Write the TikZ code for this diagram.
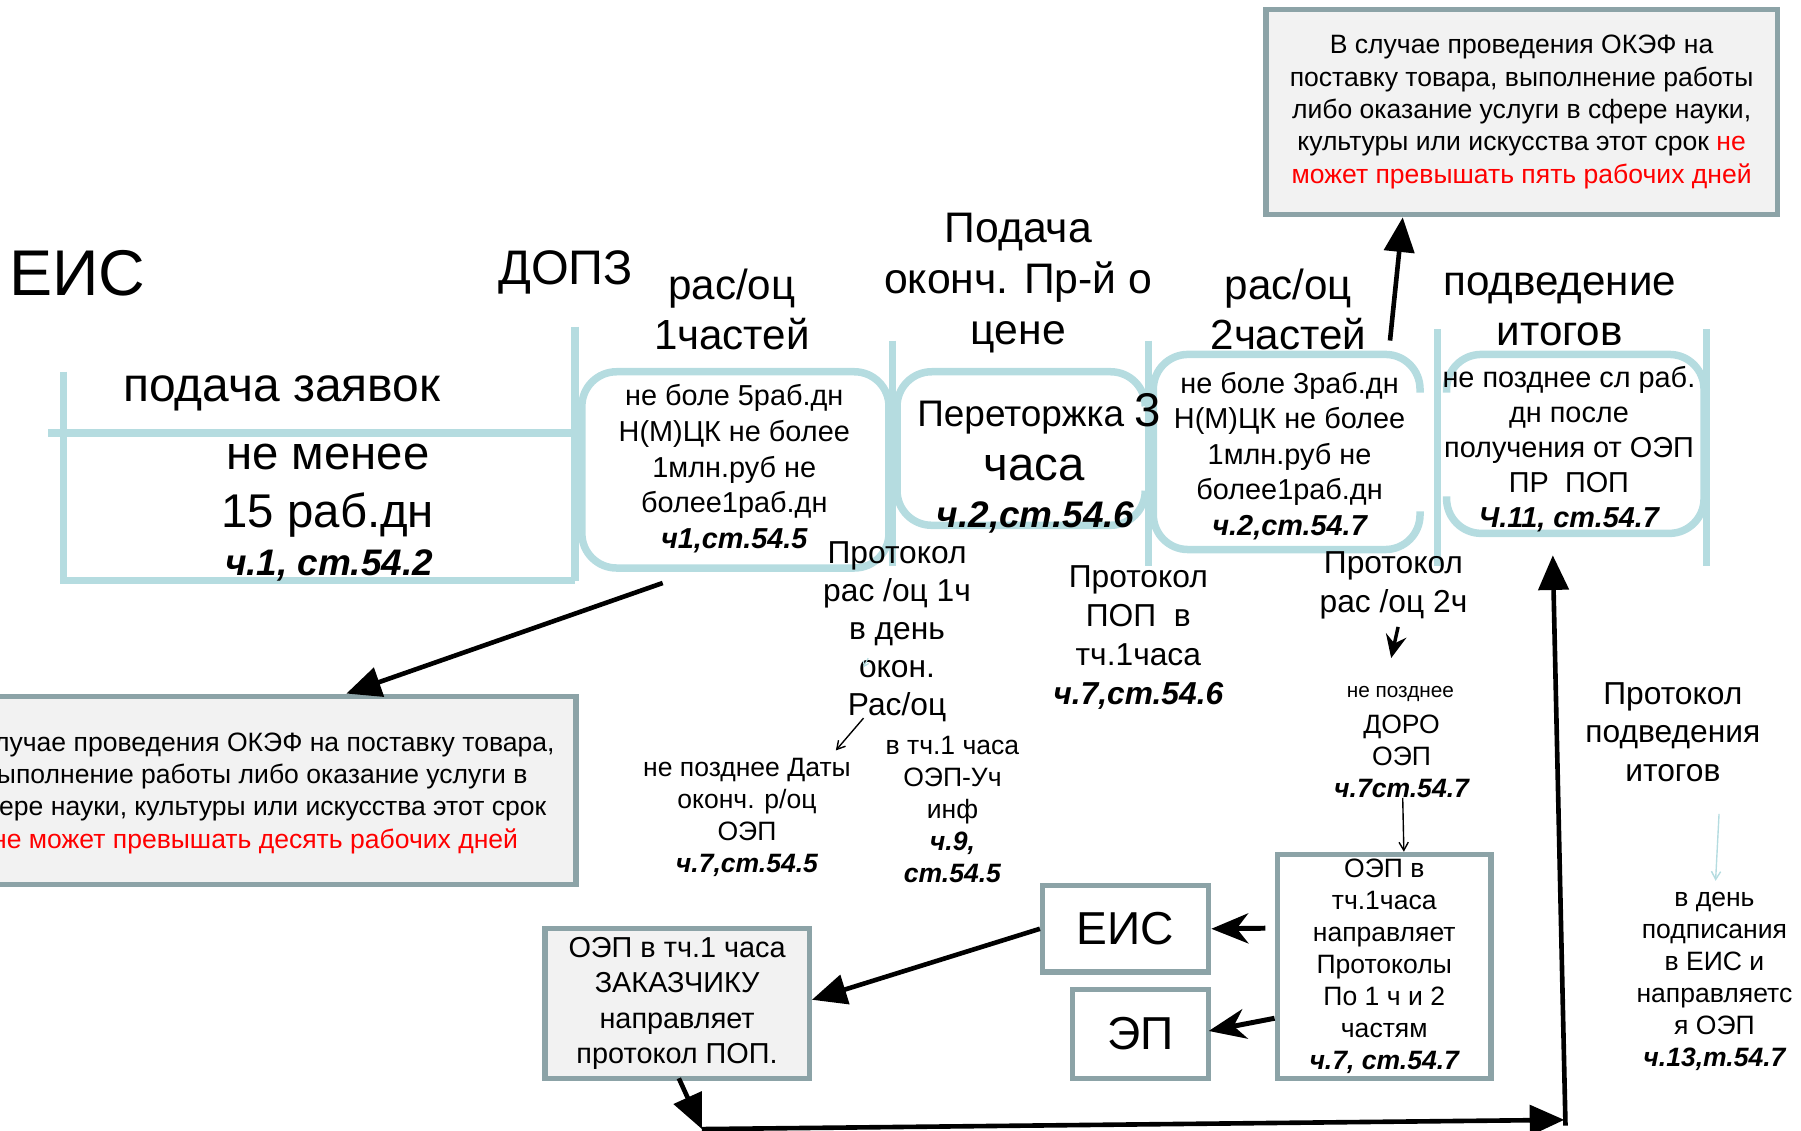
\documentclass[tikz,border=0pt]{standalone}
\usepackage{fontspec}
\setmainfont{Liberation Sans}
\usetikzlibrary{arrows.meta,calc}
\definecolor{lblue}{HTML}{B5DCE0}
\definecolor{gborder}{HTML}{8CA3A7}
\definecolor{gfill}{HTML}{F2F2F2}
\definecolor{redtxt}{HTML}{FF0000}
\newcommand{\fs}[2]{\fontsize{#1}{#2}\selectfont}
\newcommand{\bi}{\bfseries\itshape}
\begin{document}
\begin{tikzpicture}[x=1pt,y=-1pt,
  lbl/.style={draw=lblue,line width=6.5pt},
  tx/.style={inner sep=0pt,align=center},
  gbox/.style={draw=gborder,line width=4.5pt,fill=gfill,inner sep=0pt,align=center},
  wbox/.style={draw=gborder,line width=4.5pt,fill=white,inner sep=0pt,align=center},
  big/.style={line width=4pt,-{Triangle[length=30pt,width=26pt]}},
  mid/.style={line width=4.3pt,-{Stealth[length=32pt,width=26pt,inset=10pt]}},
  small/.style={line width=3pt,-{Stealth[length=20pt,width=18pt,inset=7pt]}},
  fine/.style={line width=1.2pt,-{Straight Barb[length=7pt,width=8pt]}}
]
\useasboundingbox (0,0) rectangle (1560,979);

% ---------- light blue structure ----------
\draw[lbl] (55,322) -- (55,503) -- (498,503);
\draw[lbl] (42,375) -- (498,375);
\draw[lbl] (498,283) -- (498,503);
\draw[lbl,rounded corners=30pt] (504,322) rectangle (770,492);
\draw[lbl] (773,295) -- (773,490);
\draw[lbl,rounded corners=30pt] (992,352) -- (992,322) -- (777,322) -- (777,455) -- (992,455) -- (992,425);
\draw[lbl] (995,295) -- (995,490);
\draw[lbl,rounded corners=30pt] (1230,340) -- (1230,307) -- (999,307) -- (999,476) -- (1230,476) -- (1230,443);
\draw[lbl] (1245,285) -- (1245,490);
\draw[lbl,rounded corners=30pt] (1253,340) -- (1253,307) -- (1476,307) -- (1476,462) -- (1253,462) -- (1253,430);
\draw[lbl] (1478,285) -- (1478,490);

% ---------- headings ----------
\node[tx,font=\fs{56}{60}] (eis) at (67,237) {ЕИС};
\node[tx,font=\fs{42}{48}] (dopz) at (490,236) {ДОПЗ};
\node[tx,font=\fs{36.5}{44}] (h1) at (634,268) {рас/оц\\1частей};
\node[tx,font=\fs{37}{44}] (h2) at (882,245) {Подача\\оконч. Пр-й о\\цене};
\node[tx,font=\fs{36.5}{44}] (h3) at (1116,268) {рас/оц\\2частей};
\node[tx,font=\fs{36.5}{44}] (h4) at (1351,268) {подведение\\итогов};

% ---------- section texts ----------
\node[tx,font=\fs{41.5}{48}] (pz) at (244,341) {подача заявок};
\node[tx,font=\fs{41}{50}] (nm) at (284,425) {не менее\\15 раб.дн};
\node[tx,font=\fs{32}{36}\bi] (nmref) at (285,490) {ч.1, ст.54.2};
\node[tx,font=\fs{25}{30.8}] (b2) at (636,406) {не боле 5раб.дн\\Н(М)ЦК не более\\1млн.руб не\\более1раб.дн\\{\bi ч1,ст.54.5}};
\node[tx,font=\fs{32}{38}] (pere) at (900,358) {Переторжка {\fs{41}{41}3}};
\node[tx,font=\fs{41}{48}] (chasa) at (896,405) {часа};
\node[tx,font=\fs{32}{38}\bi] (b3ref) at (897,448) {ч.2,ст.54.6};
\node[tx,font=\fs{25}{30.8}] (b4) at (1117,395) {не боле 3раб.дн\\Н(М)ЦК не более\\1млн.руб не\\более1раб.дн\\{\bi ч.2,ст.54.7}};
\node[tx,font=\fs{25}{30.5}] (b5) at (1359,389) {не позднее сл раб.\\дн после\\получения от ОЭП\\ПР\ \ ПОП\\{\bi Ч.11, ст.54.7}};

% ---------- OKEF boxes ----------
\node[gbox,minimum width=443pt,minimum height=178pt,font=\fs{23}{28}] (okef2) at (1318,97) {В случае проведения ОКЭФ на\\поставку товара, выполнение работы\\либо оказание услуги в сфере науки,\\культуры или искусства этот срок \textcolor{redtxt}{не}\\\textcolor{redtxt}{может превышать пять рабочих дней}};
\node[gbox,minimum width=559pt,minimum height=163pt] (okef1) at (219.5,684.5) {};
\node[tx,font=\fs{23}{28}] (okef1t) at (221,687) {В случае проведения ОКЭФ на поставку товара,\\выполнение работы либо оказание услуги в\\сфере науки, культуры или искусства этот срок\\\textcolor{redtxt}{не может превышать десять рабочих дней}};

% ---------- middle texts ----------
\node[tx,font=\fs{27.5}{33}] (prot1) at (777,547) {Протокол\\рас /оц 1ч\\в день\\окон.\\Рас/оц};
\node[tx,font=\fs{23}{27.7}] (npd) at (647,708) {не позднее Даты\\оконч. р/оц\\ОЭП\\{\bi ч.7,ст.54.5}};
\node[tx,font=\fs{23}{27.8}] (vtch) at (825,701) {в тч.1 часа\\ОЭП-Уч\\инф\\{\bi ч.9,}\\{\bi ст.54.5}};
\node[tx,font=\fs{27.5}{33.7}] (prot2) at (986,552) {Протокол\\ПОП\ \ в\\тч.1часа\\{\bi ч.7,ст.54.6}};
\node[tx,font=\fs{27.5}{33}] (prot3) at (1207,507) {Протокол\\рас /оц 2ч};
\node[tx,font=\fs{18}{22}] (nepoz) at (1213,601) {не позднее};
\node[tx,font=\fs{23}{28}] (doro) at (1214,655) {ДОРО\\ОЭП\\{\bi ч.7ст.54.7}};
\node[tx,font=\fs{27.5}{33.5}] (prot4) at (1449,634) {Протокол\\подведения\\итогов};
\node[tx,font=\fs{23}{27.8}] (vden) at (1485,850) {в день\\подписания\\в ЕИС и\\направляетс\\я ОЭП\\{\bi ч.13,т.54.7}};

% ---------- bottom boxes ----------
\node[wbox,minimum width=185pt,minimum height=194pt,font=\fs{23}{27.8}] (oep) at (1199,837) {ОЭП в\\тч.1часа\\направляет\\Протоколы\\По 1 ч и 2\\частям\\{\bi ч.7, ст.54.7}};
\node[wbox,minimum width=144pt,minimum height=75pt,font=\fs{40}{44}] (eisb) at (975,804.5) {ЕИС};
\node[wbox,minimum width=118pt,minimum height=77pt,font=\fs{40}{44}] (epb) at (988,895.5) {ЭП};
\node[gbox,minimum width=229pt,minimum height=130pt,font=\fs{25}{30.7}] (zak) at (586.5,869) {ОЭП в тч.1 часа\\ЗАКАЗЧИКУ\\направляет\\протокол ПОП.};

% ---------- coordinates for free ends ----------
\coordinate (a1s) at (1204,295);
\coordinate (a1x) at (1215,0);
\coordinate (a2s) at (574,505);
\coordinate (a2x) at (300,0);
\coordinate (t1s) at (748,622);
\coordinate (t1e) at (724,650);
\coordinate (lbs) at (752,570);
\coordinate (lbe) at (748,578);
\coordinate (p3s) at (1211,543);
\coordinate (p3e) at (1205,570);
\coordinate (d1s) at (1215,691);
\coordinate (d1x) at (1216,0);
\coordinate (e1s) at (1096,804);
\coordinate (e2s) at (1104,882);
\coordinate (e2e) at (1047,893);
\coordinate (z1x) at (0,866);
\coordinate (z2s) at (588,934);
\coordinate (bl) at (608,978);
\coordinate (br) at (1355,970);
\coordinate (bu) at (1356,975);
\coordinate (top5) at (1345,481);
\coordinate (v1s) at (1489,705);
\coordinate (v1e) at (1486,763);

% ---------- connectors ----------
\draw[big] (a1s) -- (a1x |- okef2.south);
\draw[big] (a2s) -- (a2x |- okef1.north);
\draw[fine] (t1s) -- (t1e);
\draw[lblue,line width=1pt,-{Straight Barb[length=4pt,width=5pt]}] (lbs) -- (lbe);
\draw[small] (p3s) -- (p3e);
\draw[fine] (d1s) -- (d1x |- oep.north);
\draw[mid] (e1s) -- (eisb.east);
\draw[mid] (e2s) -- (e2e);
\draw[big] (eisb.west) -- (zak.east |- z1x);
\draw[big] (z2s) -- (bl);
\draw[big] (bl) -- (br);
\draw[big] (bu) -- (top5);
\draw[lblue,line width=1.2pt,-{Straight Barb[length=7pt,width=8pt]}] (v1s) -- (v1e);
\end{tikzpicture}
\end{document}
